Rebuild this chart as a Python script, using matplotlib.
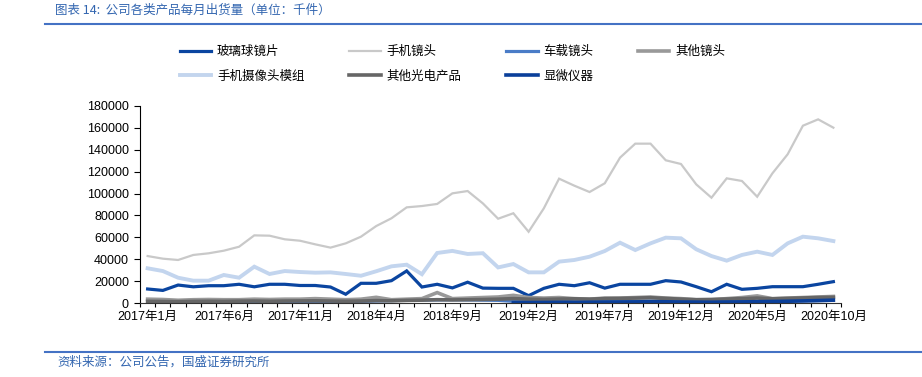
import numpy as np
import matplotlib.pyplot as plt
from matplotlib.lines import Line2D

plt.rcParams['font.family'] = ['Liberation Sans', 'Noto Sans CJK SC', 'DejaVu Sans']

# 2017年1月 .. 2020年10月, monthly
months = [f'{2017 + (i // 12)}年{i % 12 + 1}月' for i in range(46)]

glass_ball = [12800, 11500, 16400, 14800, 15800, 15800, 17100, 14800, 17100, 17100,
              16000, 16000, 14600, 8000, 18000, 18000, 20400, 29300, 14600, 17100,
              13800, 19000, 13600, 13400, 13400, 6700, 13400, 17100, 15800, 18500,
              13600, 17100, 17100, 17100, 20400, 19200, 14900, 10300, 17100, 12500,
              13400, 14900, 14900, 14900, 17100, 19500]
phone_lens = [42900, 40500, 39300, 43900, 45400, 47800, 51400, 61800, 61500, 58200,
              56900, 53600, 50600, 54500, 60600, 70300, 77400, 87400, 88600, 90500,
              100200, 102300, 91000, 77000, 82000, 65100, 86500, 113600, 107200, 101400,
              109400, 132800, 145600, 145600, 130400, 127000, 108400, 96200, 113900, 111500,
              97100, 118500, 135900, 162000, 167800, 160200]
car_lens = [800, 900, 700, 800, 1000, 900, 1000, 1100, 1000, 1200,
            1100, 1200, 1300, 1200, 1500, 1800, 2200, 2500, 2700, 2800,
            3000, 2800, 2600, 2400, 1500, 1200, 1000, 1200, 1300, 1500,
            1400, 1600, 1800, 1700, 1500, 1200, 1000, 900, 1100, 1300,
            1500, 1600, 1800, 2000, 2200, 2400]
other_lens = [3500, 3200, 2500, 3000, 3200, 3000, 3000, 3500, 3200, 3500,
              3500, 4000, 3500, 3000, 3500, 5200, 3000, 3500, 4000, 9500,
              4000, 4500, 5000, 5500, 7000, 5000, 4500, 5000, 4000, 3500,
              4500, 4500, 5000, 5500, 4500, 4000, 3000, 3000, 4000, 5000,
              6500, 4000, 4500, 5000, 5500, 6000]
phone_module = [31700, 29200, 23100, 20400, 20400, 25600, 23100, 33200, 26500, 29200,
                28300, 27700, 28000, 26500, 24900, 29000, 33500, 35000, 26300, 45700,
                47600, 44800, 45500, 32500, 35600, 28000, 28000, 37800, 39300, 42300,
                47500, 55100, 48400, 54500, 59700, 59100, 49100, 42900, 38700, 43900,
                46900, 43900, 54500, 60600, 59100, 56600]
other_opto = [1500, 1400, 1200, 1500, 1600, 1500, 1700, 1800, 1600, 1800,
              1900, 2000, 1800, 1600, 1800, 2200, 2000, 2400, 2600, 3000,
              2800, 3000, 3200, 3500, 4000, 3500, 3300, 3600, 3800, 3500,
              4000, 4200, 4500, 4800, 4200, 3500, 3000, 3200, 3600, 4000,
              4500, 3800, 4200, 4600, 5000, 5200]
microscope = [np.nan] * 24 + [300, 400, 500, 600, 500, 700,
                              800, 900, 1000, 1200, 1100, 900, 800, 700, 900, 1000,
                              1200, 1400, 1600, 1900, 2200, 2600]

series = [
    ('玻璃球镜片', glass_ball, '#0a45a0', 2.3),
    ('手机镜头', phone_lens, '#c9c9c9', 1.6),
    ('车载镜头', car_lens, '#4a7cc7', 2.3),
    ('其他镜头', other_lens, '#999999', 2.6),
    ('手机摄像头模组', phone_module, '#c3d5ee', 2.8),
    ('其他光电产品', other_opto, '#666666', 2.6),
    ('显微仪器', microscope, '#0a3f9a', 2.6),
]

fig = plt.figure(figsize=(9.22, 3.77), dpi=100)
ax = fig.add_axes([140 / 922, 1 - 303 / 377, 701 / 922, 197 / 377])

x = np.arange(len(months))
lines = []
for name, vals, color, lw in series:
    ln, = ax.plot(x, vals, color=color, lw=lw, label=name, solid_joinstyle='miter')
    lines.append(ln)

ax.set_xlim(-0.5, len(months) - 0.5)
ax.set_ylim(0, 180000)
ax.set_yticks(range(0, 180001, 20000))
ax.tick_params(axis='y', labelsize=9, length=4, width=0.8, direction='out', pad=4)

ax.set_xticks(x[::5])
ax.set_xticklabels(months[::5])
ax.set_xticks(np.arange(-0.5, len(months)), minor=True)
ax.tick_params(axis='x', which='major', length=0, labelsize=9, pad=6)
ax.tick_params(axis='x', which='minor', length=3, width=0.8, direction='out')

for side in ('top', 'right'):
    ax.spines[side].set_visible(False)
ax.spines['left'].set_color('black')
ax.spines['bottom'].set_color('#333333')

# legend filled row by row (matplotlib fills by column)
order = [0, 4, 1, 5, 2, 6, 3]
ax.legend([lines[i] for i in order], [series[i][0] for i in order],
          loc='upper left', bbox_to_anchor=(180 / 922, 1 - 46 / 377),
          bbox_transform=fig.transFigure, borderpad=0, borderaxespad=0,
          ncol=4, frameon=False, fontsize=9, handlelength=2.5, handletextpad=0.45,
          columnspacing=3.6, labelspacing=1.0)

blue = '#3366b0'
fig.text(55 / 922, 1 - 10 / 377, '图表 14:  公司各类产品每月出货量（单位：千件）',
         fontsize=9, color=blue, va='center', ha='left',
         family=['Noto Sans CJK SC', 'DejaVu Sans'])
fig.add_artist(Line2D([45 / 922, 1], [1 - 24 / 377] * 2, color='#4472c4', lw=1.5))
fig.add_artist(Line2D([45 / 922, 1], [1 - 352 / 377] * 2, color='#4472c4', lw=1.5))
fig.text(57 / 922, 1 - 362 / 377, '资料来源：公司公告，国盛证券研究所',
         fontsize=9, color=blue, va='center', ha='left',
         family=['Noto Sans CJK SC', 'DejaVu Sans'])

fig.savefig('out.png', dpi=100)
